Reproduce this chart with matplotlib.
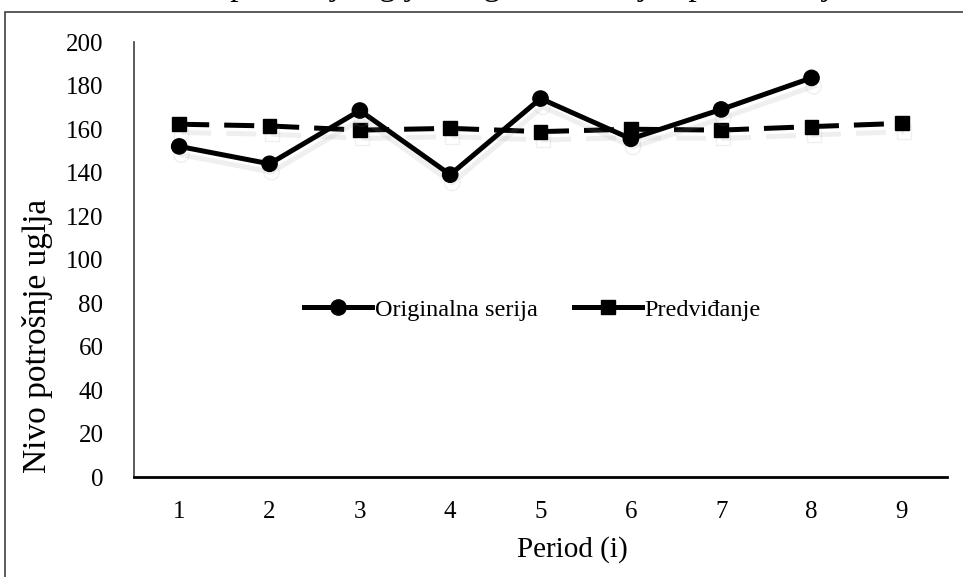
import numpy as np
import matplotlib as mpl
import matplotlib.pyplot as plt
import matplotlib.patheffects as pe
from matplotlib.patches import Rectangle

mpl.rcParams['font.family'] = ['Liberation Serif', 'DejaVu Serif']

periods = [1, 2, 3, 4, 5, 6, 7, 8, 9]
original = [152, 144, 168.5, 139, 174, 155.5, 169, 183.5]
forecast = [162.2, 161.4, 159.5, 160.3, 158.8, 159.9, 159.5, 161.1, 162.6]
yticks = [0, 20, 40, 60, 80, 100, 120, 140, 160, 180, 200]

fig = plt.figure(figsize=(9.63, 5.77), dpi=100)
ax = fig.add_axes([0.1392, 0.1733, 0.8442, 0.7539])

shadow = [pe.SimpleLineShadow(offset=(1.5, -6), shadow_color='0.6', alpha=0.15),
          pe.Normal()]

x = np.arange(len(periods))
ax.plot(x[:len(original)], original, color='black', lw=3.6, marker='o',
        markersize=11, label='Originalna serija', path_effects=shadow, zorder=3)
ax.plot(x, forecast, color='black', lw=3.6, marker='s', markersize=10,
        dashes=(6, 3), label='Predviđanje', path_effects=shadow, zorder=2)

ax.set_xlim(-0.5, len(periods) - 0.5)
ax.set_ylim(0, 200)
ax.set_xticks(x)
ax.set_xticklabels([str(p) for p in periods])
ax.set_yticks(yticks)
ax.tick_params(length=0, labelsize=18)
ax.tick_params(axis='x', pad=17)
ax.tick_params(axis='y', pad=22)

for s in ['top', 'right']:
    ax.spines[s].set_visible(False)
ax.spines['left'].set_color('#404040')
ax.spines['left'].set_linewidth(1.2)
ax.spines['bottom'].set_linewidth(2)

ax.set_xlabel('Period (i)', fontsize=21)
ax.xaxis.set_label_coords(0.539, -0.136)
ax.set_ylabel('Nivo potrošnje uglja', fontsize=24)
ax.yaxis.set_label_coords(-0.1, 0.324)

leg = ax.legend(loc='center', bbox_to_anchor=(0.49, 0.384), ncol=2,
                frameon=False, fontsize=17.5, handlelength=2.8,
                handletextpad=0.1, columnspacing=1.5)
for h in leg.get_lines():
    h.set_linestyle('-')
    h.set_path_effects([])

# chart frame and title running past the top edge
fig.patches.append(Rectangle((5 / 963, -0.1), 1.2, 1.1 - 12 / 577,
                             transform=fig.transFigure, fill=False,
                             edgecolor='#404040', lw=1.2))
fig.text(0.52, 1 + 5 / 577, 'Nivo potrošnje uglja: originalna serija i predviđanje',
         ha='center', va='baseline', fontsize=24)

fig.savefig('out.png', dpi=100)
